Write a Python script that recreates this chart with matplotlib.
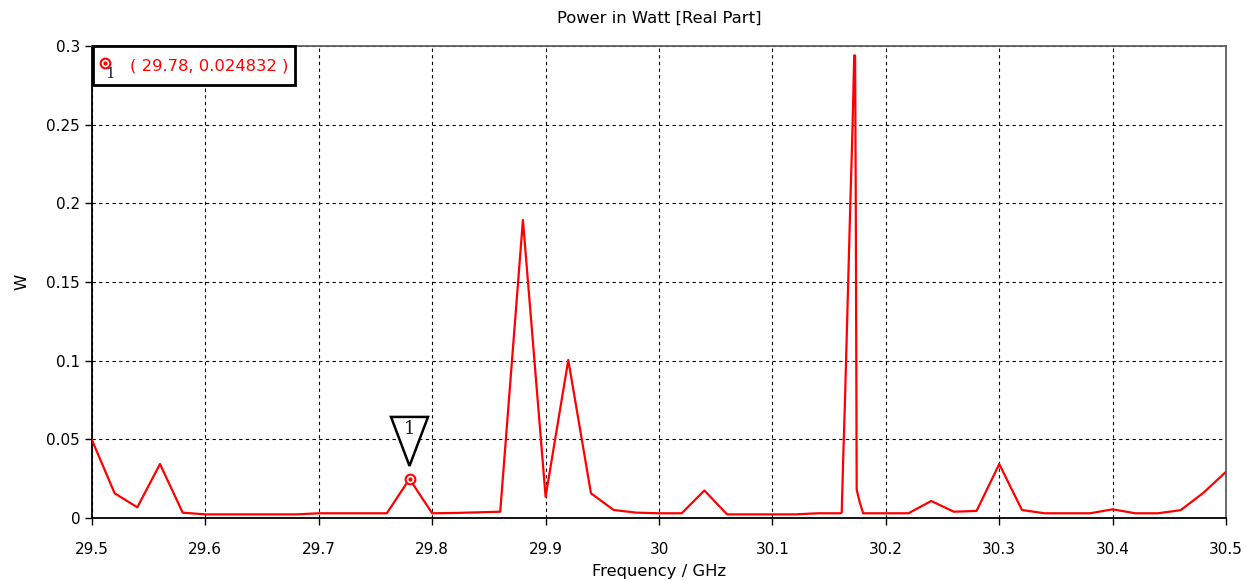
import matplotlib
matplotlib.use('Agg')
import matplotlib.pyplot as plt
import matplotlib.transforms as mtransforms
from matplotlib.patches import Polygon, Rectangle

# Frequenz in GHz und Leistung in W
freq = [29.50, 29.52, 29.54, 29.56, 29.58, 29.60, 29.62, 29.64, 29.66, 29.68,
        29.70, 29.72, 29.74, 29.76, 29.78, 29.80, 29.82, 29.84, 29.86, 29.88,
        29.90, 29.92, 29.94, 29.96, 29.98, 30.00, 30.02, 30.04, 30.06, 30.08,
        30.10, 30.12, 30.14, 30.16, 30.1611, 30.1625, 30.164, 30.1655, 30.167,
        30.1685, 30.170, 30.1712, 30.1721, 30.1729, 30.1735, 30.1743, 30.177,
        30.180, 30.20, 30.22, 30.24, 30.26, 30.28, 30.30, 30.32, 30.34, 30.36,
        30.38, 30.40, 30.42, 30.44, 30.46, 30.48, 30.50]
power = [0.0496, 0.0157, 0.0068, 0.0343, 0.0034, 0.0023, 0.0023, 0.0023, 0.0023, 0.0023,
         0.0030, 0.0030, 0.0030, 0.0030, 0.024832, 0.0030, 0.0032, 0.0036, 0.0040, 0.1894,
         0.0135, 0.1004, 0.0157, 0.0051, 0.0034, 0.0030, 0.0030, 0.0175, 0.0023, 0.0023,
         0.0023, 0.0023, 0.0030, 0.0030, 0.0035, 0.040, 0.075, 0.115, 0.155,
         0.195, 0.232, 0.265, 0.294, 0.294, 0.200, 0.018, 0.010,
         0.0030, 0.0030, 0.0030, 0.0108, 0.0040, 0.0045, 0.0343, 0.0051, 0.0030, 0.0030,
         0.0030, 0.0055, 0.0030, 0.0030, 0.0050, 0.0160, 0.0294]

marker_f = 29.78
marker_p = 0.024832

xticks = [29.5, 29.6, 29.7, 29.8, 29.9, 30.0, 30.1, 30.2, 30.3, 30.4, 30.5]
xlabels = ['29.5', '29.6', '29.7', '29.8', '29.9', '30', '30.1', '30.2', '30.3', '30.4', '30.5']
yticks = [0, 0.05, 0.1, 0.15, 0.2, 0.25, 0.3]
ylabels = ['0', '0.05', '0.1', '0.15', '0.2', '0.25', '0.3']

plt.rcParams['font.family'] = ['DejaVu Sans']
plt.rcParams['font.size'] = 11

fig = plt.figure(figsize=(12.46, 5.8), dpi=100)
ax = fig.add_axes([0.0738, 0.1069, 0.9102, 0.8138])

ax.plot(freq, power, color='#ff0000', linewidth=1.6, zorder=3)
ax.set_xlim(29.5, 30.5)
ax.set_ylim(0, 0.3)
ax.set_xticks(xticks, xlabels)
ax.set_yticks(yticks, ylabels)
ax.tick_params(direction='out', length=5, width=1, colors='black')
ax.tick_params(axis='x', pad=12)
ax.grid(True, color='black', linestyle=(0, (3, 3)), linewidth=0.8)

for s in ['left', 'bottom']:
    ax.spines[s].set_color('black')
    ax.spines[s].set_linewidth(1.3)
for s in ['top', 'right']:
    ax.spines[s].set_color('#606060')
    ax.spines[s].set_linewidth(1.3)

ax.set_title('Power in Watt [Real Part]', fontsize=11.8, pad=17)
ax.set_xlabel('Frequency / GHz', fontsize=11.8, labelpad=5)
ax.set_ylabel('W', fontsize=11.8, labelpad=12)

# Marker 1 auf der Kurve
ax.plot(marker_f, marker_p, 'o', markersize=7, markerfacecolor='white',
        markeredgecolor='#ff0000', markeredgewidth=1.5, zorder=5)
ax.plot(marker_f, marker_p, 'o', markersize=2, color='#ff0000', zorder=6)

# Dreieck mit "1" über dem Marker (Versatz in Pixeln relativ zum Punkt)
at_marker = mtransforms.ScaledTranslation(marker_f, marker_p, ax.transData)
tri = Polygon([(-18.5, 62), (18.5, 62), (0, 13)], closed=True, facecolor='white',
              edgecolor='black', linewidth=1.8, zorder=4,
              transform=mtransforms.IdentityTransform() + at_marker)
ax.add_patch(tri)
ax.text(0, 50, '1', transform=mtransforms.IdentityTransform() + at_marker,
        ha='center', va='center', fontsize=13, family='DejaVu Serif',
        color='#1a1a1a', zorder=6)

# Legendenkasten oben links
box = Rectangle((0.0008, 0.917), 0.1786, 0.083, transform=ax.transAxes, facecolor='white',
                edgecolor='black', linewidth=2, zorder=7, clip_on=False)
ax.add_patch(box)
ax.plot([0.0115], [0.965], 'o', transform=ax.transAxes, markersize=7, markerfacecolor='white',
        markeredgecolor='#ff0000', markeredgewidth=1.5, zorder=8, clip_on=False)
ax.plot([0.0115], [0.965], 'o', transform=ax.transAxes, markersize=2, color='#ff0000',
        zorder=9, clip_on=False)
ax.text(0.016, 0.94, '1', transform=ax.transAxes, fontsize=11, family='DejaVu Serif',
        color='#1a1a4a', ha='center', va='center', zorder=9)
ax.text(0.0335, 0.958, '( 29.78, 0.024832 )', transform=ax.transAxes, fontsize=11.8,
        color='#ff0000', ha='left', va='center', zorder=9)

fig.savefig('out.png', dpi=100)
